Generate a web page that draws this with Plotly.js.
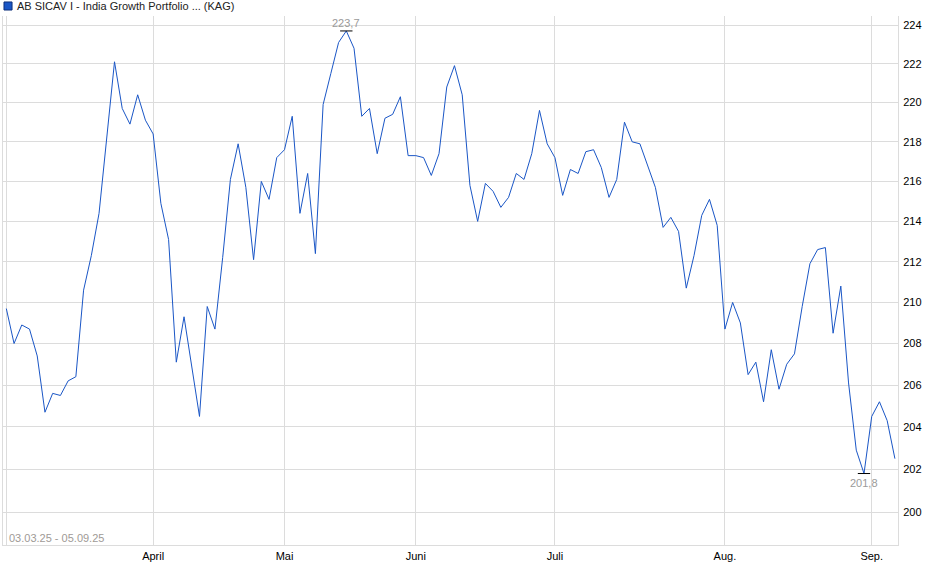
<!DOCTYPE html>
<html>
<head>
<meta charset="utf-8">
<script src="https://cdn.plot.ly/plotly-3.0.1.min.js"></script>
<style>
  html, body { margin: 0; padding: 0; background: #fff; }
  #chart { width: 940px; height: 579px; }
</style>
</head>
<body>
<div id="chart"></div>
<script>
// fund price, one value per trading day 03.03.25 - 05.09.25
const prices = [
  209.7, 208.0, 208.9, 208.7, 207.4, 204.7, 205.6, 205.5, 206.2, 206.4,
  210.6, 212.3, 214.4, 218.3, 222.1, 219.7, 218.9, 220.4, 219.1, 218.4,
  214.9, 213.1, 207.1, 209.3, 206.8, 204.5, 209.8, 208.7, 212.2, 216.1,
  217.9, 215.7, 212.1, 216.0, 215.1, 217.2, 217.6, 219.3, 214.4, 216.4,
  212.4, 219.9, 221.5, 223.1, 223.7, 222.8, 219.3, 219.7, 217.4, 219.2,
  219.4, 220.3, 217.3, 217.3, 217.2, 216.3, 217.4, 220.8, 221.9, 220.4,
  215.8, 214.0, 215.9, 215.5, 214.7, 215.2, 216.4, 216.1, 217.4, 219.6,
  217.9, 217.2, 215.3, 216.6, 216.4, 217.5, 217.6, 216.7, 215.2, 216.1,
  219.0, 218.0, 217.9, 216.8, 215.7, 213.7, 214.2, 213.5, 210.7, 212.3,
  214.3, 215.1, 213.8, 208.7, 210.0, 209.0, 206.5, 207.1, 205.2, 207.7,
  205.8, 207.0, 207.5, 209.8, 211.9, 212.6, 212.7, 208.5, 210.8, 206.1,
  202.9, 201.8, 204.5, 205.2, 204.3, 202.5
];
const days = prices.map((p, i) => i);

// first trading day of each month (index into prices)
const monthIdx = [0, 19, 36, 53, 71, 93, 112];
const monthText = ['', 'April', 'Mai', 'Juni', 'Juli', 'Aug.', 'Sep.'];

const yTicks = [200, 202, 204, 206, 208, 210, 212, 214, 216, 218, 220, 222, 224];

const fundName = 'AB SICAV I - India Growth Portfolio ... (KAG)';
const period = '03.03.25 - 05.09.25';

const FONT = '"Liberation Sans", Arial, sans-serif';
const fmt = v => v.toFixed(1).replace('.', ',');

// extremes
let iMax = 0, iMin = 0;
prices.forEach((p, i) => {
  if (p > prices[iMax]) iMax = i;
  if (p < prices[iMin]) iMin = i;
});

var data = [{
  x: days,
  y: prices,
  type: 'scatter',
  mode: 'lines',
  line: { color: '#1a56c6', width: 1 },
  hoverinfo: 'y',
  showlegend: false
}];

const gridCol = '#dcdcdc';

var layout = {
  width: 940,
  height: 579,
  margin: { l: 3, r: 42, t: 16, b: 34 },
  paper_bgcolor: '#fff',
  plot_bgcolor: '#fff',
  font: { family: FONT, size: 11, color: '#000' },
  xaxis: {
    range: [-0.43, 115.4],
    tickmode: 'array',
    tickvals: monthIdx,
    ticktext: monthText,
    showgrid: true,
    gridcolor: gridCol,
    gridwidth: 1,
    showline: true,
    linecolor: gridCol,
    linewidth: 1,
    zeroline: false,
    ticks: '',
    ticklabelstandoff: 1,
    tickfont: { family: FONT, size: 11, color: '#000' },
    fixedrange: true
  },
  yaxis: {
    type: 'log',
    side: 'right',
    range: [Math.log10(198.47), Math.log10(224.48)],
    tickmode: 'array',
    tickvals: yTicks,
    ticktext: yTicks.map(String),
    showgrid: true,
    gridcolor: gridCol,
    gridwidth: 1,
    showline: true,
    mirror: true,
    linecolor: gridCol,
    linewidth: 1,
    zeroline: false,
    ticks: '',
    ticklabelstandoff: 2,
    tickfont: { family: FONT, size: 11, color: '#000' },
    fixedrange: true
  },
  shapes: [
    // legend square
    {
      type: 'rect', xref: 'paper', yref: 'paper',
      x0: 0.0011, x1: 0.0101, y0: 1.0113, y1: 1.0265,
      fillcolor: '#1a56c6', line: { color: '#0d2f7a', width: 1 }
    },
    // max / min markers
    {
      type: 'line', xref: 'x', yref: 'y',
      x0: iMax - 0.8, x1: iMax + 0.8, y0: prices[iMax], y1: prices[iMax],
      line: { color: '#000', width: 1 }
    },
    {
      type: 'line', xref: 'x', yref: 'y',
      x0: iMin - 0.8, x1: iMin + 0.8, y0: prices[iMin], y1: prices[iMin],
      line: { color: '#000', width: 1 }
    }
  ],
  annotations: [
    {
      xref: 'paper', yref: 'paper', x: 0.0134, y: 1.0189,
      xanchor: 'left', yanchor: 'middle', showarrow: false,
      text: fundName, font: { family: FONT, size: 11, color: '#222' }
    },
    {
      xref: 'paper', yref: 'paper', x: 0.005, y: -0.002,
      xanchor: 'left', yanchor: 'bottom', showarrow: false,
      text: period, font: { family: FONT, size: 11, color: '#a09a96' }
    },
    {
      xref: 'x', yref: 'y', x: iMax, y: Math.log10(prices[iMax]),
      xanchor: 'center', yanchor: 'bottom', yshift: 0, showarrow: false,
      text: fmt(prices[iMax]), font: { family: FONT, size: 11, color: '#9a9a9a' }
    },
    {
      xref: 'x', yref: 'y', x: iMin, y: Math.log10(prices[iMin]),
      xanchor: 'center', yanchor: 'top', yshift: -1, showarrow: false,
      text: fmt(prices[iMin]), font: { family: FONT, size: 11, color: '#9a9a9a' }
    }
  ]
};

Plotly.newPlot('chart', data, layout, { displayModeBar: false, staticPlot: true });
</script>
</body>
</html>
